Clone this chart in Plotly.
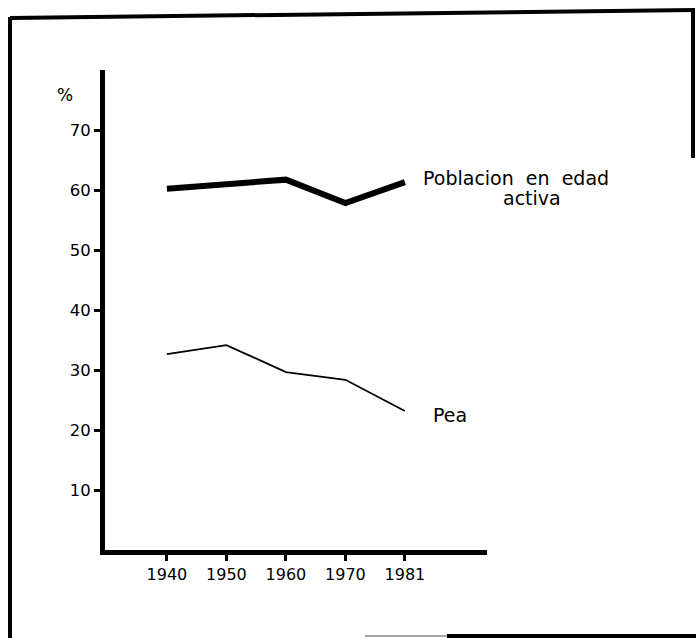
import plotly.graph_objects as go

years = ["1940", "1950", "1960", "1970", "1981"]
poblacion_edad_activa = [60.3, 61.0, 61.8, 57.9, 61.4]
pea = [32.7, 34.2, 29.7, 28.4, 23.2]
y_ticks = [10, 20, 30, 40, 50, 60, 70]

W, H = 696, 638
L, R, T, B = 105, 209, 70, 88
PW, PH = W - L - R, H - T - B


def px(x):
    return (x - L) / PW


def py(y):
    return (H - B - y) / PH


FONT = "DejaVu Sans"

fig = go.Figure()
fig.add_trace(go.Scatter(x=years, y=poblacion_edad_activa, mode="lines",
                         line=dict(color="black", width=6),
                         name="Poblacion en edad activa", cliponaxis=False))
fig.add_trace(go.Scatter(x=years, y=pea, mode="lines",
                         line=dict(color="black", width=1.8),
                         name="Pea", cliponaxis=False))


def label(text, x, y, size=19):
    return dict(text=text, x=px(x), y=py(y), xref="paper", yref="paper",
                xanchor="center", yanchor="middle", showarrow=False,
                font=dict(size=size, family=FONT, color="black"))


annotations = [
    label("%", 65, 95, 17),
    label("Poblacion&nbsp; en&nbsp; edad", 516, 178),
    label("activa", 532, 198),
    label("Pea", 450, 415),
]

frame = dict(type="line", xref="paper", yref="paper",
             line=dict(color="black", width=4))
shapes = [
    dict(frame, x0=px(10), y0=py(17), x1=px(10), y1=py(640)),
    dict(frame, x0=px(10), y0=py(18), x1=px(694), y1=py(10)),
    dict(frame, x0=px(693), y0=py(8), x1=px(693), y1=py(158)),
    dict(frame, x0=px(447), y0=py(636), x1=px(700), y1=py(636)),
    dict(type="line", xref="paper", yref="paper", x0=px(365), y0=py(636),
         x1=px(447), y1=py(636), line=dict(color="#888", width=1.5)),
]

fig.update_layout(
    width=W, height=H,
    margin=dict(l=L, r=R, t=T, b=B),
    paper_bgcolor="white", plot_bgcolor="white",
    showlegend=False,
    font=dict(family=FONT, color="black", size=16),
    annotations=annotations,
    shapes=shapes,
)
fig.update_xaxes(type="category", range=[-1.04, 5.38],
                 showline=True, linecolor="black", linewidth=5,
                 ticks="outside", ticklen=6, tickwidth=3, tickcolor="black",
                 showgrid=False, zeroline=False,
                 tickfont=dict(size=16, family=FONT, color="black"))
fig.update_yaxes(range=[0, 80.1], tickvals=y_ticks,
                 showline=True, linecolor="black", linewidth=5,
                 ticks="outside", ticklen=6, tickwidth=3, tickcolor="black",
                 showgrid=False, zeroline=False,
                 tickfont=dict(size=16.5, family=FONT, color="black"))

fig.write_html("out.html",
               config={"displayModeBar": False},
               post_script="document.body.style.margin='0';"
                           "document.body.style.overflow='hidden';")
